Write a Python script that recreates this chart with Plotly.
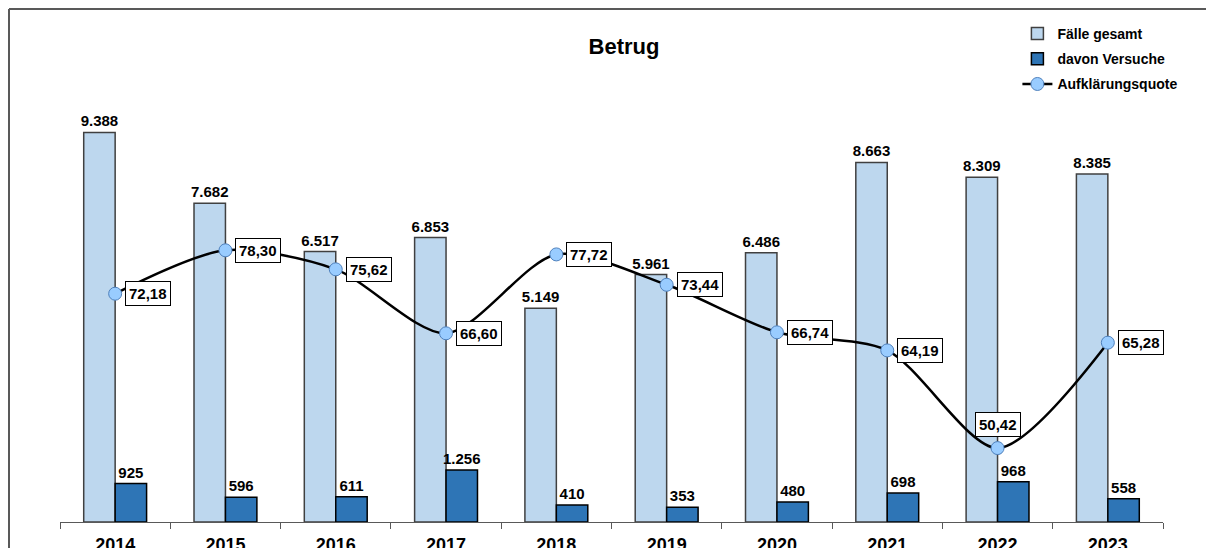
import plotly.graph_objects as go

years = ["2014", "2015", "2016", "2017", "2018", "2019", "2020", "2021", "2022", "2023"]
faelle = [9388, 7682, 6517, 6853, 5149, 5961, 6486, 8663, 8309, 8385]
versuche = [925, 596, 611, 1256, 410, 353, 480, 698, 968, 558]
quote = [72.18, 78.30, 75.62, 66.60, 77.72, 73.44, 66.74, 64.19, 50.42, 65.28]
label_above = [False, False, False, False, False, False, False, False, True, False]

FONT = "Arial, Liberation Sans, sans-serif"

fig = go.Figure()
fig.add_trace(go.Bar(
    x=years, y=faelle, name="Fälle gesamt", legendgroup="a",
    marker=dict(color="#BDD7EE", line=dict(color="#404040", width=1.5)),
    texttemplate="%{y:,}", textposition="outside", cliponaxis=False, constraintext="none",
    textfont=dict(family=FONT, size=15, color="black", weight="bold"),
))
fig.add_trace(go.Bar(
    x=years, y=versuche, name="davon Versuche", legendgroup="b",
    marker=dict(color="#2E75B6", line=dict(color="#000000", width=1.5)),
    texttemplate="%{y:,}", textposition="outside", cliponaxis=False, constraintext="none",
    textfont=dict(family=FONT, size=15, color="black", weight="bold"),
))
fig.add_trace(go.Scatter(
    x=years, y=quote, name="Aufklärungsquote", yaxis="y2", legendgroup="c",
    mode="lines+markers", line=dict(color="black", width=2.5, shape="spline", smoothing=0.8),
    marker=dict(size=13, color="#99CCFF", line=dict(color="#4F81BD", width=1)),
    cliponaxis=False,
))

annotations = []
for i, (q, above) in enumerate(zip(quote, label_above)):
    txt = f"{q:.2f}".replace(".", ",")
    a = dict(x=i, y=q, xref="x", yref="y2", text=txt, showarrow=False,
             font=dict(family=FONT, size=15, color="black", weight="bold"),
             bgcolor="white", bordercolor="black", borderwidth=1, borderpad=3)
    if above:
        a.update(xanchor="center", yanchor="bottom", yshift=11)
    else:
        a.update(xanchor="left", yanchor="middle", xshift=10)
    annotations.append(a)

L, R, T, B = 52, 1155, 99, 514
fx = (1 - L) / (R - L)
fy = 1 + (T - 1) / (B - T)
shapes = [
    dict(type="line", xref="paper", yref="paper", x0=fx, x1=fx, y0=-0.2, y1=fy,
         line=dict(color="#595959", width=2)),
    dict(type="line", xref="paper", yref="paper", x0=fx, x1=1.2, y0=fy, y1=fy,
         line=dict(color="#595959", width=2)),
]

fig.update_layout(
    width=1214, height=548,
    margin=dict(l=L, r=1214 - R, t=T, b=548 - B, autoexpand=False),
    paper_bgcolor="white", plot_bgcolor="white",
    separators=",.",
    barmode="group", bargap=0.43, bargroupgap=0,
    font=dict(family=FONT, color="black"),
    title=dict(text="Betrug", x=0.5074, xref="container", y=0.9307, yref="container",
               xanchor="center", yanchor="middle",
               font=dict(family=FONT, size=22, color="black", weight="bold")),
    xaxis=dict(type="category", range=[-0.5, 9.5], autorange=False,
               showline=True, linecolor="#595959", linewidth=1,
               ticks="outside", tickson="boundaries", ticklen=6, tickcolor="#595959",
               showgrid=False, tickangle=0, automargin=False, ticklabelstandoff=6,
               tickfont=dict(family=FONT, size=18, color="black", weight="bold")),
    yaxis=dict(range=[0, 10000], autorange=False, visible=False, showgrid=False, zeroline=False),
    yaxis2=dict(range=[40, 98.5], autorange=False, overlaying="y", visible=False,
                showgrid=False, zeroline=False),
    legend=dict(x=0.868, y=1.2145, xanchor="left", yanchor="top",
                traceorder="grouped", tracegroupgap=4,
                font=dict(family=FONT, size=14, color="black", weight="bold"),
                bgcolor="rgba(0,0,0,0)"),
    annotations=annotations,
    shapes=shapes,
)

fig.write_html("out.html")
